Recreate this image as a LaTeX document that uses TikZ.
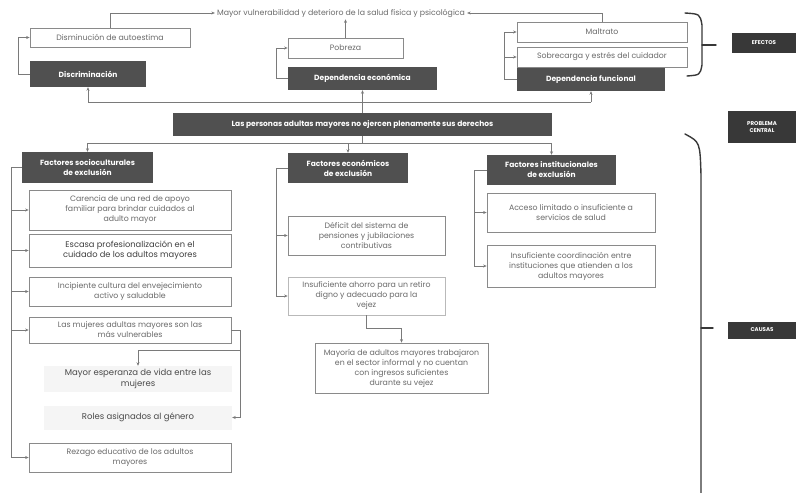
\documentclass[tikz,border=0pt]{standalone}
\usepackage{fontspec}
\setmainfont{Poppins}
\usetikzlibrary{arrows.meta}
\definecolor{hdr}{HTML}{505050}
\definecolor{lbl}{HTML}{383838}
\definecolor{bord}{HTML}{8A8A8A}
\definecolor{txt}{HTML}{6A6A6A}
\definecolor{conc}{HTML}{7A7A7A}
\begin{document}
\begin{tikzpicture}[x=1pt,y=-1pt,
  wbox/.style={draw=bord, line width=0.7pt, fill=white, text=txt, align=center, inner sep=0pt,
    font=\fontsize{7.8}{10}\selectfont},
  dbox/.style={fill=hdr, text=white, align=center, inner sep=0pt,
    font=\fontsize{7.5}{10}\selectfont\bfseries},
  lbox/.style={fill=lbl, text=white, align=center, inner sep=0pt,
    font=\fontsize{5.5}{7.5}\selectfont\bfseries},
  fbox/.style={fill=gray!8, text=txt!70!black, align=center, inner sep=0pt,
    font=\fontsize{8.5}{11}\selectfont},
  conn/.style={draw=conc, line width=0.7pt},
  arr/.style={conn, -{Stealth[length=3.5pt,width=3pt]}},
  brc/.style={draw=lbl, line width=1.4pt, line cap=round}]
\useasboundingbox (0,0) rectangle (796,493);

% ---------- EFECTOS ----------
\node[text=txt, font=\fontsize{7.8}{9}\selectfont, inner sep=2pt] (tt) at (341,13)
  {Mayor vulnerabilidad y deterioro de la salud física y psicológica};
\node[wbox, minimum width=160, minimum height=19] (dis) at (110,37.5) {Disminución de autoestima};
\node[dbox, minimum width=116, minimum height=26] (disc) at (88,74) {Discriminación};
\node[wbox, minimum width=115, minimum height=20] (pob) at (345.5,48) {Pobreza};
\node[dbox, minimum width=149, minimum height=23] (depe) at (362.5,78.5) {Dependencia económica};
\node[wbox, minimum width=170, minimum height=20] (mal) at (602,32) {Maltrato};
\node[wbox, minimum width=170, minimum height=20] (sob) at (602,57) {Sobrecarga y estrés del cuidador};
\node[dbox, minimum width=148, minimum height=23] (depf) at (591,79.5) {Dependencia funcional};

\node[lbox, minimum width=64, minimum height=20] (efe) at (764,43) {EFECTOS};
\node[lbox, minimum width=68, minimum height=32] (pc) at (762,127) {PROBLEMA\\CENTRAL};
\node[lbox, minimum width=68, minimum height=17] (cau) at (762,330) {CAUSAS};

% ---------- PROBLEMA CENTRAL ----------
\node[dbox, minimum width=379, minimum height=23] (cen) at (362.5,124.5)
  {Las personas adultas mayores no ejercen plenamente sus derechos};

% ---------- CAUSAS: headers ----------
\node[dbox, minimum width=131, minimum height=31] (fs) at (87.5,167.5) {Factores socioculturales\\de exclusión};
\node[dbox, minimum width=120, minimum height=30] (fe) at (348,168) {Factores económicos\\de exclusión};
\node[dbox, minimum width=129, minimum height=30] (fi) at (551.5,170) {Factores institucionales\\de exclusión};

% socioculturales
\node[wbox, minimum width=202, minimum height=40] (car) at (130,210)
  {Carencia de una red de apoyo\\familiar para brindar cuidados al\\adulto mayor};
\node[wbox, minimum width=202, minimum height=33, text=txt!60!black,
  font=\fontsize{8.3}{10.5}\selectfont] (esc) at (130,250.5)
  {Escasa profesionalización en el\\cuidado de los adultos mayores};
\node[wbox, minimum width=202, minimum height=29] (inc) at (130,291.5)
  {Incipiente cultura del envejecimiento\\activo y saludable};
\node[wbox, minimum width=202, minimum height=26] (muj) at (130,330)
  {Las mujeres adultas mayores son las\\más vulnerables};
\node[fbox, minimum width=188, minimum height=26] (may) at (138,379)
  {Mayor esperanza de vida entre las\\mujeres};
\node[fbox, minimum width=188, minimum height=24] (rol) at (138,417.5)
  {Roles asignados al género};
\node[wbox, minimum width=202, minimum height=29] (rez) at (130,457.5)
  {Rezago educativo de los adultos\\mayores};

% económicos
\node[wbox, minimum width=157, minimum height=39] (def) at (366.5,235.5)
  {Déficit del sistema de\\pensiones y jubilaciones\\contributivas};
\node[wbox, draw=bord!60, minimum width=157, minimum height=38] (aho) at (366.5,296)
  {Insuficiente ahorro para un retiro\\digno y adecuado para la\\vejez};
\node[wbox, minimum width=173, minimum height=50] (tra) at (401.5,368)
  {Mayoría de adultos mayores trabajaron\\en el sector informal y no cuentan\\con ingresos suficientes\\durante su vejez};

% institucionales
\node[wbox, minimum width=168, minimum height=39] (acc) at (571,212.5)
  {Acceso limitado o insuficiente a\\servicios de salud};
\node[wbox, minimum width=168, minimum height=42] (coo) at (571,266)
  {Insuficiente coordinación entre\\instituciones que atienden a los\\adultos mayores};

% ---------- connectors: effects ----------
\coordinate (hu) at (0,102);
\draw[conn] (cen.north) -- (cen.north |- hu);
\draw[conn] (disc.south |- hu) -- (depf.south |- hu);
\draw[arr] (disc.south |- hu) -- (disc.south);
\draw[arr] (depe.south |- hu) -- (depe.south);
\draw[arr] (depf.south |- hu) -- (depf.south);

\draw[arr] (disc.west) -- ++(-11,0) |- (dis.west);
\draw[arr] (dis.north) |- (tt.west);
\draw[arr] (pob.north) -- (pob.north |- tt.south);
\draw[arr] (depe.west) -- ++(-11,0) |- (pob.west);
\draw[arr] (mal.north) |- (tt.east);
\coordinate (dfl) at ([xshift=-12pt]depf.west);
\draw[arr] (depf.west) -- (dfl) |- (mal.west);
\draw[arr] (dfl |- sob.west) -- (sob.west);

% ---------- connectors: causes ----------
\coordinate (hl) at (0,143);
\draw[conn] (cen.south) -- (cen.south |- hl);
\draw[conn] (fs.north |- hl) -- (fi.north |- hl);
\draw[arr] (fs.north |- hl) -- (fs.north);
\draw[arr] (fe.north |- hl) -- (fe.north);
\draw[arr] (fi.north |- hl) -- (fi.north);

\coordinate (fsl) at ([xshift=-10pt]fs.west);
\draw[arr] (fs.west) -- (fsl) |- (rez.west);
\draw[arr] (fsl |- car.west) -- (car.west);
\draw[arr] (fsl |- esc.west) -- (esc.west);
\draw[arr] (fsl |- inc.west) -- (inc.west);
\draw[arr] (fsl |- muj.west) -- (muj.west);

\coordinate (mr) at ([xshift=9pt]muj.east);
\coordinate (mjy) at (0,350);
\draw[arr] (muj.east) -- (mr) |- (rol.east);
\draw[arr] (mr |- mjy) -| (may.north);

\coordinate (fel) at ([xshift=-11pt]fe.west);
\draw[arr] (fe.west) -- (fel) |- (aho.west);
\draw[arr] (fel |- def.west) -- (def.west);
\draw[arr] (aho.south) -- ++(0,13) -| (tra.north);

\coordinate (fil) at ([xshift=-12pt]fi.west);
\draw[arr] (fi.west) -- (fil) |- (coo.west);
\draw[arr] (fil |- acc.west) -- (acc.west);

% ---------- braces ----------
\draw[brc] (685,13) .. controls (700,14) .. (702,25) -- (702,65) .. controls (700,75) .. (687,76);
\coordinate (eb) at (716,45);
\draw[brc] (702,45) -- (eb);
\draw[brc] (685,134) .. controls (700,142) .. (701,175) -- (701,493);
\coordinate (cb) at (713,328);
\draw[brc] (701,328) -- (cb);
\end{tikzpicture}
\end{document}
